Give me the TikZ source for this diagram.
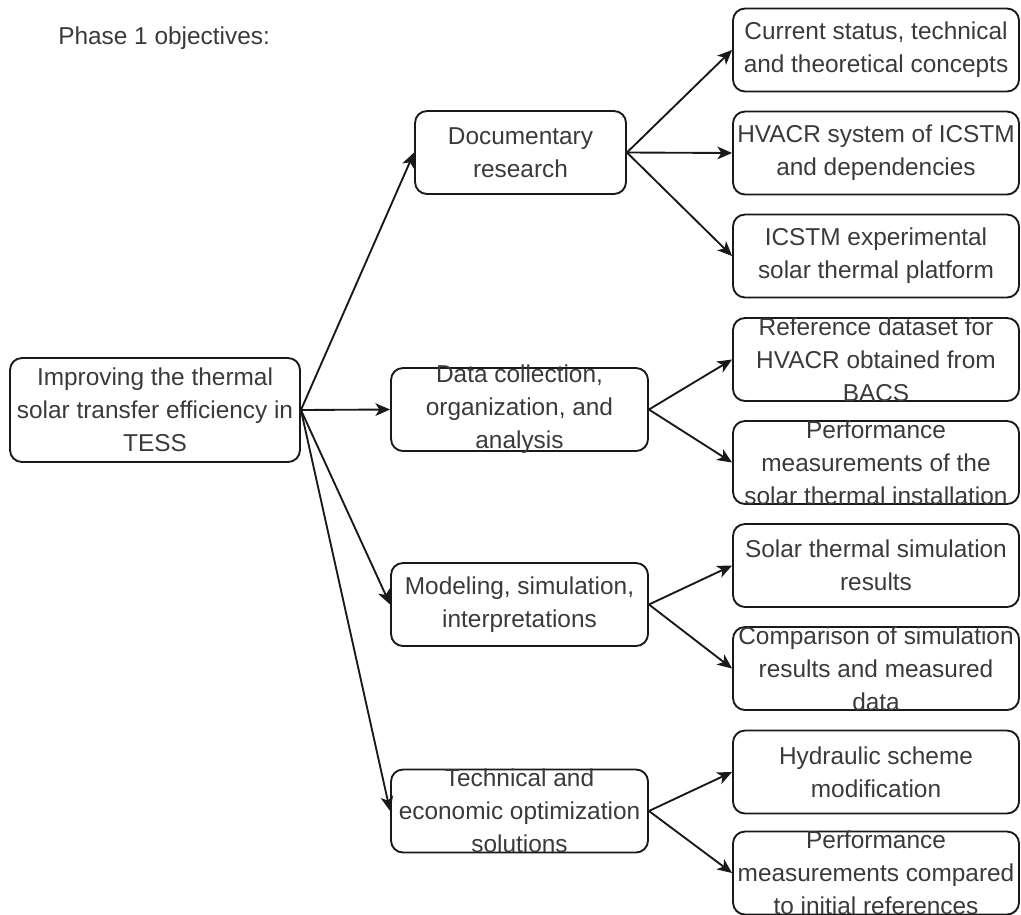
\documentclass[tikz,border=0pt]{standalone}
\usepackage{fontspec}
\setmainfont{Liberation Sans}
\usetikzlibrary{arrows.meta}
\definecolor{txt}{RGB}{58,58,58}
\definecolor{ln}{RGB}{25,25,25}
\tikzset{
  box/.style={draw=ln, line width=1.4pt, rounded corners=9pt, inner sep=0pt,
    minimum width=#1, minimum height=62.25pt},
  box/.default=214.5pt,
  lbl/.style={align=center, font=\fontsize{18.3}{24.75}\selectfont, text=txt, inner sep=0pt},
  link/.style={draw=ln, line width=1.4pt, -{Stealth[length=11pt, width=9.5pt, inset=3pt]}}
}
\begin{document}
\begin{tikzpicture}[x=0.75pt, y=-0.75pt]
  \useasboundingbox (0,0) rectangle (1021,914);

  % heading
  \node[lbl, anchor=west] (title) at (58,38) {Phase 1 objectives:};

  % root goal
  \node[box=217.5pt, minimum height=78pt] (root) at (155,410) {};
  \node[lbl] (rootT) at (root.center) {Improving the thermal\\solar transfer efficiency in\\TESS};

  % work packages
  \node[box=158.25pt] (doc)   at (520.5,152.5) {};
  \node[box=192.75pt] (data)  at (519.5,409.5) {};
  \node[box=192.75pt] (model) at (519.5,604.5) {};
  \node[box=192.75pt] (tech)  at (519.5,811) {};
  \node[lbl] (docT)   at (doc.center)   {Documentary\\research};
  \node[lbl] (dataT)  at (data.center)  {Data collection,\\organization, and\\analysis};
  \node[lbl] (modelT) at (model.center) {Modeling, simulation,\\interpretations};
  \node[lbl] (techT)  at (tech.center)  {Technical and\\economic optimization\\solutions};

  % deliverables
  \node[box] (cur)   at (876,50)    {};
  \node[box] (hv)    at (876,153)   {};
  \node[box] (ic)    at (876,256)   {};
  \node[box] (ref)   at (876,359.5) {};
  \node[box] (perfA) at (876,462.5) {};
  \node[box] (sol)   at (876,565.5) {};
  \node[box] (comp)  at (876,668.5) {};
  \node[box] (hyd)   at (876,772)   {};
  \node[box] (perfB) at (876,873)   {};
  \node[lbl] (curT)   at (cur.center)   {Current status, technical\\and theoretical concepts};
  \node[lbl] (hvT)    at (hv.center)    {HVACR system of ICSTM\\and dependencies};
  \node[lbl] (icT)    at (ic.center)    {ICSTM experimental\\solar thermal platform};
  \node[lbl] (refT)   at (ref.center)   {Reference dataset for\\HVACR obtained from\\BACS};
  \node[lbl] (perfAT) at (perfA.center) {Performance\\measurements of the\\solar thermal installation};
  \node[lbl] (solT)   at (sol.center)   {Solar thermal simulation\\results};
  \node[lbl] (compT)  at (comp.center)  {Comparison of simulation\\results and measured\\data};
  \node[lbl] (hydT)   at (hyd.center)   {Hydraulic scheme\\modification};
  \node[lbl] (perfBT) at (perfB.center) {Performance\\measurements compared\\to initial references};

  % connectors
  \foreach \t in {doc,data,model,tech} \draw[link] (root.east) -- (\t.west);
  \foreach \t in {cur,hv,ic} \draw[link] (doc.east) -- (\t.west);
  \foreach \t in {ref,perfA} \draw[link] (data.east) -- (\t.west);
  \foreach \t in {sol,comp} \draw[link] (model.east) -- (\t.west);
  \foreach \t in {hyd,perfB} \draw[link] (tech.east) -- (\t.west);
\end{tikzpicture}
\end{document}
